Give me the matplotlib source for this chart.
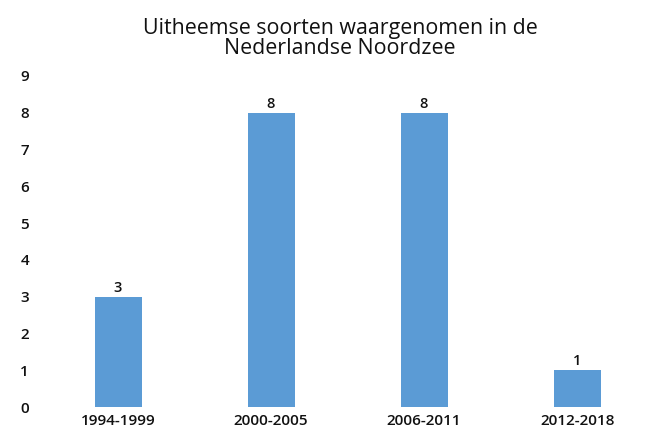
import matplotlib.pyplot as plt

periods = ['1994-1999', '2000-2005', '2006-2011', '2012-2018']
counts = [3, 8, 8, 1]
yticks = [0, 1, 2, 3, 4, 5, 6, 7, 8, 9]

plt.rcParams['font.family'] = ['Open Sans', 'DejaVu Sans']

fig = plt.figure(figsize=(6.49, 4.36), dpi=100)
W, H = 649, 436
# axes placed in pixels: left 40, right 645, bottom 407, top 60
ax = fig.add_axes([40 / W, (H - 407) / H, 605 / W, 347 / H])

xs = list(range(len(periods)))
bars = ax.bar(xs, counts, width=0.307, color='#5b9bd5')
for x, v in zip(xs, counts):
    ax.annotate(str(v), (x, v), xytext=(0, 1.5), textcoords='offset points',
                ha='center', va='bottom', fontsize=10.5, fontweight='semibold', color='#111111')

ax.set_xlim(-0.51, 3.444)
ax.set_ylim(0, 9.435)
ax.set_yticks(yticks)
ax.set_xticks(xs)
ax.set_xticklabels(periods)
ax.tick_params(axis='both', length=0, labelsize=11, labelcolor='#111111')
ax.tick_params(axis='y', pad=8)
ax.tick_params(axis='x', pad=5)
for lab in ax.get_xticklabels() + ax.get_yticklabels():
    lab.set_fontweight('semibold')
for s in ax.spines.values():
    s.set_visible(False)

fig.text(340 / W, 1 - 18 / H, 'Uitheemse soorten waargenomen in de\nNederlandse Noordzee',
         ha='center', va='top', fontsize=15.4, linespacing=0.93, color='#111111')

fig.savefig('out.png', dpi=100)
